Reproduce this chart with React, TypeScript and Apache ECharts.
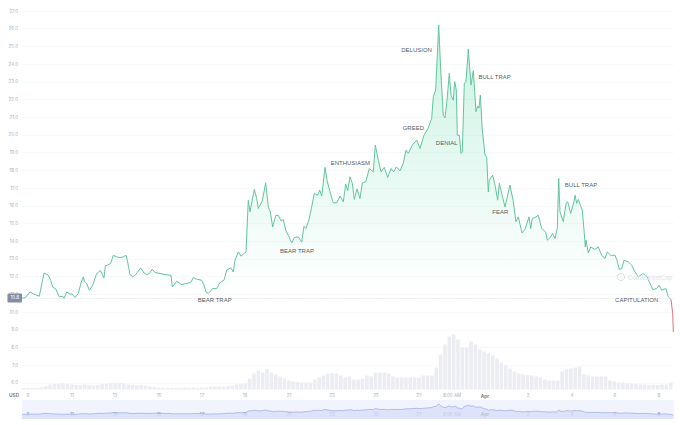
import React, { useEffect, useRef } from "react";
import * as echarts from "echarts";

// Time is measured in samples from the left of the window (about 1.1 hours each).
const times = [0,3,8,13,17.3,22,26.3,28.7,30.7,34,37.3,40.7,42,44.7,48,50,53,56.3,59,61.3,62.3,64.7,67.3,70.7,74.7,78.3,82,83.3,85.3,88.7,91.3,94.7,98,101.3,104,105.3,108,110.7,113,115.3,118.7,122,124.7,127.3,130.3,133,138,143,149,150.3,154.7,159.7,164.7,168.7,171.3,174.7,179.7,182,184,186.3,190.7,194.7,198,202,204.7,208.7,211.3,213,216.3,219,222.3,224];
const prices = [10.8,10.8,11.14,10.99,10.9,12.21,12.08,11.8,11.42,11.29,10.86,10.9,10.77,11.14,11.01,11.03,10.82,11.05,11.65,11.99,11.71,11.62,11.24,11.52,12.18,12.35,11.93,12.61,12.65,12.75,13.21,13.12,13.08,13.12,13.21,12.93,12.12,11.99,12.08,12.24,12.5,12.21,12.12,12.18,12.42,12.24,12.18,12.12,12.08,11.42,11.74,11.56,11.62,11.67,11.95,11.86,11.8,11.52,11.14,11.05,11.33,11.33,11.67,11.8,12.37,12.5,12.27,12.93,13.4,13.16,13.31,13.4];
const times2 = [226.3,228,232.3,234.7,236.3,240.3,243.7,246.3,248.3,250.7,253.7,256.3,259,261.3,263.7,266.3,269.7,272.3,276.3,279.7,282,284,287,289.7,292.3,295.7,297.7,299.7,303,305,308,311.3,314.7,318,321.3,323.7,325.7,328,330.3,332.3,335,338,340.3,343.7,347.3,351.3,353.3,356.3,359,362.3,365.7,369,371.7,374.3,378,381.3,384,386.3,390.3,394.7,398,402,406,409.7,411.3,413.7,416.7,418.7,421.3,423,425,427.3,429,431.3,432.7,434.3,435.3,437.3,439,440.3,442.3,444,446.3,449,451.3,454,455.7,457,458.3,460.3,463,464.7,466.3,467.3,470.7,473,475.7,477.3,479.7,483,485.3,488,491.3,494,496.3,500,503,507,508.7,510.3,513,516.3,519.7,523.7,525.3,528.7,530.7,533,535.3,536.7,538,541.3,544,545.7,548.7,552,553,554.7,556.3,560.3,562.3,563.3,564,566.3,568.7,573,576.3,579.7,583,585.3,588.7,593,595,597.3,599.7,602,606.3,609.7,613,616.3,620.7,624.7,628,630.7,634.7,637,639.7,644,646.3,649];
const prices2 = [16.32,15.66,16.93,16.42,15.85,16.28,17.3,15.94,15.66,14.81,15.46,15.47,15.15,15.23,14.63,14.34,13.91,14.21,14.25,13.95,14.85,14.72,15.23,15.94,16.7,16.6,16.89,16.55,18.17,17.45,16.79,16.17,16.17,16.55,16.23,17.23,16.85,17.64,17.27,16.36,16.96,16.42,17.3,17.36,18.11,17.92,19.43,18.58,17.92,18.17,17.6,18.11,17.92,18.2,17.98,18.4,19.15,18.96,19.43,19.71,19.24,19.99,20.37,20.94,22.16,22.54,26.21,23.67,21.12,20.97,21.97,23.48,22.25,21.97,23.01,22.54,19.99,19.99,18.96,19.05,22.92,23.01,24.84,22.82,23.63,21.31,21.63,21.52,22.25,20.28,18.86,18.77,16.79,17.45,17.73,17.17,16.32,17.27,16.7,15.94,16.51,17.17,16.23,15.1,15.38,14.47,14.67,15.38,14.72,15.29,15.34,15.47,14.72,14.53,14.06,14.25,14.44,14.16,14.72,17.55,15.66,15.1,16.14,16.23,15.57,16.23,16.6,16.14,16.36,15.76,14.44,13.68,14.06,13.34,13.68,13.54,13.68,13.21,13.03,13.4,13.21,13.21,12.93,12.41,12.46,12.93,12.84,12.65,12.27,11.99,12.18,12.03,11.62,11.28,11.33,11.52,11.24,11.33,10.86,10.71];
const dropTimes = [649, 650.7, 651.3];
const dropPrices = [10.71, 9.92, 8.88];

const volumes = [1.5,1.5,1.5,1.5,2,3.5,5,5.5,5.5,6,5.5,5,4.5,4.5,5,4.5,4,4.5,5.5,5.5,6,6.5,6.5,6,5,4.5,4,4.5,4,3,2.5,2,1.5,1.5,1.5,1.5,1.5,2,1.5,2,1.5,2,2,3,3,3,3,3.5,4,5,5.5,6,11,16,19,17,20.5,17,15,13,11,9,8,7.5,7,7,7,10,12,14,16,16.5,16,14,12,13,10,10,11,14,13,17,17,17,16,13,12,12,12,12,12,12,14,14,14,22,35,45,53,55,50,42,42,48,45,40,38,36,34,31,27,24,21,18,16,15,14.5,14,13,12,10,9,9,9,18,20,21,22,23,15,14,13,13,13,13,9,8,7,7,6,6,5.5,5,5,4.5,4.5,4.5,5,5,7];

const tickTimes = [6, 50, 93, 137, 180, 223, 267, 310, 354, 397, 430, 463, 506, 550, 593, 637];
const tickLabels = ["9", "11", "13", "15", "17", "19", "21", "23", "25", "27", "8:00 AM", "Apr", "2", "4", "6", "8"];

const noteLabels = ["DELUSION", "GREED", "DENIAL", "ENTHUSIASM", "BULL TRAP", "BULL TRAP", "BEAR TRAP", "BEAR TRAP", "FEAR", "CAPITULATION"];
const noteTimes = [394.6, 391.3, 424.7, 328.3, 472.7, 559, 275, 192.7, 478.3, 614.7];
const notePrices = [24.8, 20.41, 19.54, 18.4, 23.25, 17.19, 13.46, 10.67, 15.64, 10.67];

const baseline = 10.8;
const FONT = "Inter";
const TICK = "#a6b0c3";
const GRID = "#f8f9fa";

const line = [...times.map((t, i) => [t, prices[i]]), ...times2.map((t, i) => [t, prices2[i]])];
const red = dropTimes.map((t, i) => [t, dropPrices[i]]);
const bars = volumes.map((v, i) => [2 + i * 4.34, v]);

const labelOf = (v: number) => {
  const i = tickTimes.indexOf(v);
  if (i < 0) return "";
  return tickLabels[i] === "Apr" ? "{b|Apr}" : tickLabels[i];
};

export default function App() {
  const ref = useRef<HTMLDivElement>(null);
  useEffect(() => {
    document.body.style.margin = "0";
    const chart = echarts.init(ref.current!, null, { renderer: "svg" });
    const xBase = { type: "value", min: 0, max: 652, splitLine: { show: false }, axisLine: { show: false }, axisTick: { show: false } };
    chart.setOption({
      animation: false,
      backgroundColor: "#fff",
      grid: [
        { left: 22, right: 6, top: 11, height: 389.7 },
        { left: 22, right: 6, top: 329.5, height: 60 },
        { left: 22, right: 6, top: 400, height: 19, show: true, backgroundColor: "#f1f3fd", borderWidth: 0 },
      ],
      xAxis: [
        { ...xBase, gridIndex: 0, axisLabel: { show: false } },
        {
          ...xBase, gridIndex: 1,
          axisLabel: {
            customValues: tickTimes, formatter: labelOf, color: TICK, fontSize: 4.5, fontFamily: FONT, margin: 3.5,
            hideOverlap: false, rich: { b: { color: "#6b7280", fontSize: 4.8, fontWeight: 600, fontFamily: FONT } },
          },
        },
        {
          ...xBase, gridIndex: 2,
          axisLabel: {
            customValues: tickTimes, formatter: labelOf, color: "#8f9bc0", fontSize: 4.5, fontFamily: FONT, inside: true, margin: 2.5,
            hideOverlap: false, rich: { b: { color: "#6b7280", fontSize: 4.8, fontWeight: 600, fontFamily: FONT } },
          },
        },
      ],
      yAxis: [
        {
          type: "value", gridIndex: 0, min: 5, max: 27, interval: 1,
          axisLine: { show: false }, axisTick: { show: false },
          splitLine: { show: true, showMinLine: false, lineStyle: { color: GRID, width: 1 } },
          axisLabel: {
            color: TICK, fontSize: 4.5, fontFamily: FONT, margin: 4,
            formatter: (v: number) => (v === 5 ? "" : v.toFixed(1)),
          },
        },
        { type: "value", gridIndex: 1, min: 0, max: 60, show: false },
        { type: "value", gridIndex: 2, min: 3.8, max: 32.2, show: false },
      ],
      series: [
        {
          name: "Volume", type: "bar", xAxisIndex: 1, yAxisIndex: 1, data: bars, barWidth: 3.6,
          itemStyle: { color: "#ecedf2" }, silent: true, z: 1,
        },
        {
          name: "Price", type: "line", xAxisIndex: 0, yAxisIndex: 0, data: line, showSymbol: false, z: 3,
          lineStyle: { color: "#62c49c", width: 1 },
          areaStyle: {
            origin: "start",
            color: {
              type: "linear", global: true, x: 0, y: 25, x2: 0, y2: 297,
              colorStops: [
                { offset: 0, color: "rgba(22,199,132,0.32)" },
                { offset: 1, color: "rgba(22,199,132,0)" },
              ],
            },
          },
          markLine: {
            silent: true, symbol: "none", animation: false,
            lineStyle: { color: "#d9dce4", type: "dotted", width: 0.7 },
            label: {
              position: "start", distance: 0, formatter: "10.8", color: "#fff", fontSize: 4.5, fontFamily: FONT,
              backgroundColor: "#858ca2", padding: [2, 3, 2, 3], borderRadius: 1,
            },
            data: [{ yAxis: baseline }],
          },
        },
        {
          name: "Below", type: "line", xAxisIndex: 0, yAxisIndex: 0, data: red, showSymbol: false, z: 3,
          lineStyle: { color: "#e0737d", width: 1 },
        },
        {
          name: "Notes", type: "scatter", xAxisIndex: 0, yAxisIndex: 0, symbolSize: 1, z: 5, silent: true,
          itemStyle: { color: "rgba(0,0,0,0)" },
          data: noteTimes.map((t, i) => ({ value: [t, notePrices[i]], name: noteLabels[i] })),
          label: {
            show: true, position: "inside", formatter: "{b}", color: "#24282f", fontSize: 6,
            fontFamily: "Liberation Sans",
          },
        },
        {
          name: "Overview", type: "line", xAxisIndex: 2, yAxisIndex: 2, data: [...line, ...red], showSymbol: false, z: 2,
          lineStyle: { color: "#8c9de2", width: 0.6 },
          areaStyle: { origin: "start", color: "#d5dcf7" },
        },
      ],
      graphic: [
        { type: "text", x: 9, y: 392.5, style: { text: "USD", fontSize: 4.8, fontWeight: 600, fontFamily: FONT, fill: "#6b7280" } },
        { type: "circle", shape: { cx: 621, cy: 277, r: 3.6 }, style: { fill: "none", stroke: "#d5d9e6", lineWidth: 0.8 }, z: 10 },
        { type: "text", x: 628, y: 274, style: { text: "CoinMarketCap", fontSize: 6, fontFamily: FONT, fill: "#dfe2ec" }, z: 10 },
      ],
    });
    return () => chart.dispose();
  }, []);
  return <div ref={ref} style={{ width: 680, height: 425 }} />;
}
